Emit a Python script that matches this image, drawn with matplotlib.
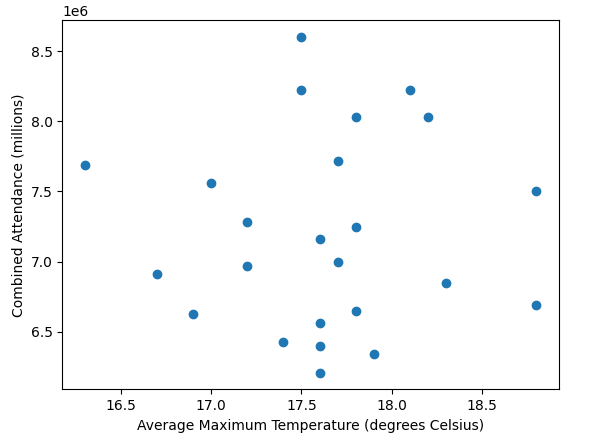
import numpy as np
import matplotlib
matplotlib.use("Agg")
import matplotlib.pyplot as plt

# average max temperature vs combined attendance
temperature = [17.5, 17.5, 18.1, 17.8, 18.2, 16.3, 17.7, 17.0, 18.8, 17.2,
               17.8, 17.6, 17.7, 17.2, 16.7, 18.3, 18.8, 17.8, 16.9, 17.6,
               17.4, 17.6, 17.9, 17.6]
attendance = [8.60e6, 8.22e6, 8.22e6, 8.03e6, 8.03e6, 7.69e6, 7.72e6, 7.56e6,
              7.50e6, 7.28e6, 7.25e6, 7.16e6, 7.00e6, 6.97e6, 6.91e6, 6.85e6,
              6.69e6, 6.65e6, 6.63e6, 6.56e6, 6.43e6, 6.40e6, 6.34e6, 6.21e6]

fig, ax = plt.subplots(figsize=(5.97, 4.34), dpi=100)
ax.scatter(temperature, attendance)
ax.set_xlabel("Average Maximum Temperature (degrees Celsius)")
ax.set_ylabel("Combined Attendance (millions)")

fig.subplots_adjust(left=0.1044, right=0.9358, bottom=0.1030, top=0.9532)
plt.savefig("out.png")
